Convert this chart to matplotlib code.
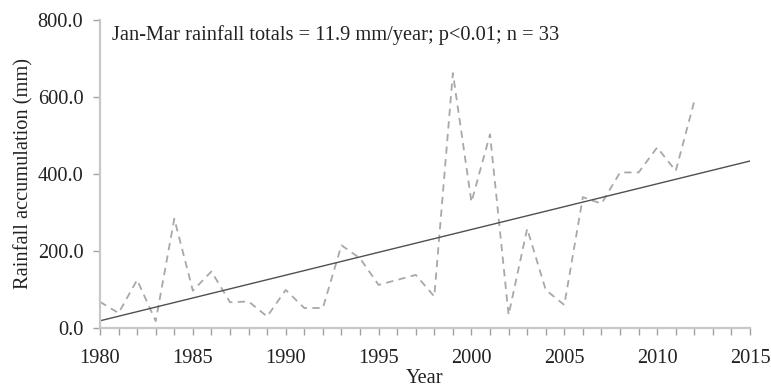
import numpy as np
import matplotlib
matplotlib.use("Agg")
import matplotlib.pyplot as plt

plt.rcParams['font.family'] = ['Liberation Serif', 'DejaVu Serif']

# Jan-Mar rainfall totals, 1980-2012
years = np.arange(1980, 2013)
rain = [68, 39, 125, 18, 284, 97, 147, 67, 69, 30,
        99, 52, 52, 215, 181, 112, 125, 138, 82, 662,
        327, 503, 34, 258, 99, 60, 340, 323, 404, 404,
        469, 408, 589]

trend_years = [1980, 2015]
xticks = [1980, 1985, 1990, 1995, 2000, 2005, 2010, 2015]
yticks = [0, 200, 400, 600, 800]
label_text = "Jan-Mar rainfall totals = 11.9 mm/year; p<0.01; n = 33"

# linear trend
slope, icpt = np.polyfit(years, rain, 1)
tx = np.array(trend_years)
ty = slope * tx + icpt

fig = plt.figure(figsize=(7.71, 3.91), dpi=100)
ax = fig.add_axes([0.1297, 0.161, 0.8431, 0.788])

ax.plot(years, rain, color='#a8a8a8', lw=1.3, ls=(0, (4, 3)))
ax.plot(tx, ty, color='#505050', lw=1.0)

ax.set_xlim(1980, 2015)
ax.set_ylim(0, 800)
ax.set_xticks(xticks)
ax.set_xticks(np.arange(1980, 2016), minor=True)
ax.set_yticks(yticks)
ax.set_yticklabels(["%.1f" % v for v in yticks])

for s in ['top', 'right']:
    ax.spines[s].set_visible(False)
for s in ['left', 'bottom']:
    ax.spines[s].set_color('#c8c8c8')
    ax.spines[s].set_linewidth(1.6)

ax.tick_params(axis='both', which='both', direction='out', colors='#a0a0a0',
               labelcolor='#222222', labelsize=14.7, width=1.0)
ax.tick_params(axis='x', which='major', length=5, pad=10)
ax.tick_params(axis='x', which='minor', length=5)
ax.tick_params(axis='y', which='major', length=5, pad=7)

ax.set_xlabel("Year", fontsize=14.7, color='#222222', labelpad=1)
ax.set_ylabel("Rainfall accumulation (mm)", fontsize=14.7, color='#222222', labelpad=3)

ax.text(0.018, 0.951, label_text, transform=ax.transAxes, fontsize=14.7,
        color='#222222', va='center', ha='left')

plt.savefig('out.png', dpi=100)
